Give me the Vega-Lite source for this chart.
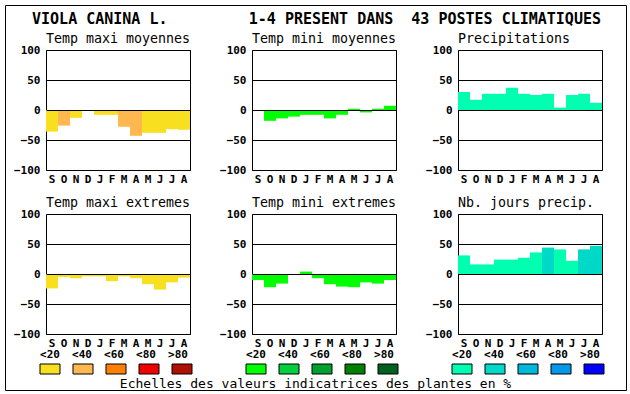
{
  "$schema": "https://vega.github.io/schema/vega-lite/v6.json",
  "padding": 4,
  "background": "white",
  "datasets": {
    "bars": [
      {"p": "tmx", "mo": "Sep", "v": -36, "c": "T1"},
      {"p": "tmx", "mo": "Oct", "v": -26, "c": "T2"},
      {"p": "tmx", "mo": "Nov", "v": -13, "c": "T1"},
      {"p": "tmx", "mo": "Dec", "v": 0, "c": "T1"},
      {"p": "tmx", "mo": "Jan", "v": -8, "c": "T1"},
      {"p": "tmx", "mo": "Feb", "v": -8, "c": "T1"},
      {"p": "tmx", "mo": "Mar", "v": -28, "c": "T2"},
      {"p": "tmx", "mo": "Apr", "v": -43, "c": "T2"},
      {"p": "tmx", "mo": "May", "v": -38, "c": "T1"},
      {"p": "tmx", "mo": "Jun", "v": -38, "c": "T1"},
      {"p": "tmx", "mo": "Jul", "v": -32, "c": "T1"},
      {"p": "tmx", "mo": "Aug", "v": -33, "c": "T1"},
      {"p": "tmn", "mo": "Sep", "v": 0, "c": "N1"},
      {"p": "tmn", "mo": "Oct", "v": -18, "c": "N1"},
      {"p": "tmn", "mo": "Nov", "v": -14, "c": "N1"},
      {"p": "tmn", "mo": "Dec", "v": -11, "c": "N1"},
      {"p": "tmn", "mo": "Jan", "v": -8, "c": "N1"},
      {"p": "tmn", "mo": "Feb", "v": -8, "c": "N1"},
      {"p": "tmn", "mo": "Mar", "v": -14, "c": "N1"},
      {"p": "tmn", "mo": "Apr", "v": -8, "c": "N1"},
      {"p": "tmn", "mo": "May", "v": 2, "c": "N1"},
      {"p": "tmn", "mo": "Jun", "v": -4, "c": "N1"},
      {"p": "tmn", "mo": "Jul", "v": 2, "c": "N1"},
      {"p": "tmn", "mo": "Aug", "v": 7, "c": "N1"},
      {"p": "pr", "mo": "Sep", "v": 30, "c": "P1"},
      {"p": "pr", "mo": "Oct", "v": 17, "c": "P1"},
      {"p": "pr", "mo": "Nov", "v": 27, "c": "P1"},
      {"p": "pr", "mo": "Dec", "v": 27, "c": "P1"},
      {"p": "pr", "mo": "Jan", "v": 37, "c": "P1"},
      {"p": "pr", "mo": "Feb", "v": 27, "c": "P1"},
      {"p": "pr", "mo": "Mar", "v": 25, "c": "P1"},
      {"p": "pr", "mo": "Apr", "v": 27, "c": "P1"},
      {"p": "pr", "mo": "May", "v": 4, "c": "P1"},
      {"p": "pr", "mo": "Jun", "v": 25, "c": "P1"},
      {"p": "pr", "mo": "Jul", "v": 27, "c": "P1"},
      {"p": "pr", "mo": "Aug", "v": 12, "c": "P1"},
      {"p": "tmxe", "mo": "Sep", "v": -24, "c": "T1"},
      {"p": "tmxe", "mo": "Oct", "v": -5, "c": "T1"},
      {"p": "tmxe", "mo": "Nov", "v": -7, "c": "T1"},
      {"p": "tmxe", "mo": "Dec", "v": -4, "c": "T1"},
      {"p": "tmxe", "mo": "Jan", "v": -4, "c": "T1"},
      {"p": "tmxe", "mo": "Feb", "v": -12, "c": "T1"},
      {"p": "tmxe", "mo": "Mar", "v": -4, "c": "T1"},
      {"p": "tmxe", "mo": "Apr", "v": -7, "c": "T1"},
      {"p": "tmxe", "mo": "May", "v": -17, "c": "T1"},
      {"p": "tmxe", "mo": "Jun", "v": -26, "c": "T1"},
      {"p": "tmxe", "mo": "Jul", "v": -14, "c": "T1"},
      {"p": "tmxe", "mo": "Aug", "v": -6, "c": "T1"},
      {"p": "tmne", "mo": "Sep", "v": -10, "c": "N1"},
      {"p": "tmne", "mo": "Oct", "v": -22, "c": "N1"},
      {"p": "tmne", "mo": "Nov", "v": -16, "c": "N1"},
      {"p": "tmne", "mo": "Dec", "v": 0, "c": "N1"},
      {"p": "tmne", "mo": "Jan", "v": 4, "c": "N1"},
      {"p": "tmne", "mo": "Feb", "v": -7, "c": "N1"},
      {"p": "tmne", "mo": "Mar", "v": -17, "c": "N1"},
      {"p": "tmne", "mo": "Apr", "v": -21, "c": "N1"},
      {"p": "tmne", "mo": "May", "v": -22, "c": "N1"},
      {"p": "tmne", "mo": "Jun", "v": -14, "c": "N1"},
      {"p": "tmne", "mo": "Jul", "v": -16, "c": "N1"},
      {"p": "tmne", "mo": "Aug", "v": -10, "c": "N1"},
      {"p": "nj", "mo": "Sep", "v": 31, "c": "P1"},
      {"p": "nj", "mo": "Oct", "v": 16, "c": "P1"},
      {"p": "nj", "mo": "Nov", "v": 16, "c": "P1"},
      {"p": "nj", "mo": "Dec", "v": 24, "c": "P1"},
      {"p": "nj", "mo": "Jan", "v": 24, "c": "P1"},
      {"p": "nj", "mo": "Feb", "v": 27, "c": "P1"},
      {"p": "nj", "mo": "Mar", "v": 36, "c": "P1"},
      {"p": "nj", "mo": "Apr", "v": 44, "c": "P2"},
      {"p": "nj", "mo": "May", "v": 41, "c": "P1"},
      {"p": "nj", "mo": "Jun", "v": 22, "c": "P1"},
      {"p": "nj", "mo": "Jul", "v": 41, "c": "P2"},
      {"p": "nj", "mo": "Aug", "v": 47, "c": "P2"}
    ],
    "leg": [
      {"g": "T", "lab": "<20", "c": "T1"},
      {"g": "T", "lab": "<40", "c": "T2"},
      {"g": "T", "lab": "<60", "c": "T3"},
      {"g": "T", "lab": "<80", "c": "T4"},
      {"g": "T", "lab": ">80", "c": "T5"},
      {"g": "N", "lab": "<20", "c": "N1"},
      {"g": "N", "lab": "<40", "c": "N2"},
      {"g": "N", "lab": "<60", "c": "N3"},
      {"g": "N", "lab": "<80", "c": "N4"},
      {"g": "N", "lab": ">80", "c": "N5"},
      {"g": "P", "lab": "<20", "c": "P1"},
      {"g": "P", "lab": "<40", "c": "P2"},
      {"g": "P", "lab": "<60", "c": "P3"},
      {"g": "P", "lab": "<80", "c": "P4"},
      {"g": "P", "lab": ">80", "c": "P5"}
    ]
  },
  "bounds": "flush",
  "align": "none",
  "spacing": -580,
  "hconcat": [
    {
      "width": 621,
      "height": 385,
      "view": {"stroke": "black", "strokeWidth": 1},
      "title": {"text": "Echelles des valeurs indicatrices des plantes en %", "orient": "bottom", "anchor": "middle", "offset": -2, "fontSize": 13, "baseline": "alphabetic", "frame": "group"},
      "data": {"values": [{"t": ""}]},
      "mark": {"type": "text"},
      "encoding": {
        "x": {"datum": 0.5, "type": "quantitative", "scale": {"domain": [0, 1]}, "axis": null},
        "y": {"datum": 0.5, "type": "quantitative", "scale": {"domain": [0, 1]}, "axis": null},
        "text": {"field": "t", "type": "nominal"}
      }
    },
    {
      "spacing": -1,
      "align": "none",
      "vconcat": [
        {
          "width": 541,
          "height": 27,
          "view": {"stroke": null},
          "data": {"values": [{"t": "VIOLA CANINA L.\u00a0\u00a0\u00a0\u00a0\u00a0\u00a0\u00a0\u00a0\u00a01-4 PRESENT DANS\u00a0\u00a043 POSTES CLIMATIQUES"}]},
          "mark": {"type": "text", "font": "DejaVu Sans Mono", "fontSize": 15, "fontWeight": "bold", "baseline": "alphabetic", "dy": 5.5, "color": "black"},
          "encoding": {"text": {"field": "t", "type": "nominal"}}
        },
        {
          "columns": 3,
          "bounds": "flush",
          "spacing": {"row": 44, "column": 62},
          "concat": [
            {
              "title": "Temp maxi moyennes",
              "width": 144, "height": 120,
              "data": {"name": "bars"},
              "transform": [{"filter": "datum.p === 'tmx'"}],
              "mark": {"type": "bar"},
              "encoding": {
                "x": {"field": "mo", "type": "ordinal", "scale": {"domain": ["Sep","Oct","Nov","Dec","Jan","Feb","Mar","Apr","May","Jun","Jul","Aug"], "paddingInner": 0, "paddingOuter": 0}, "axis": {"title": null, "labelAngle": 0, "labelPadding": 3, "labelExpr": "substring(datum.label,0,1)"}},
                "y": {"field": "v", "type": "quantitative", "scale": {"domain": [-100, 100]}, "axis": {"title": null, "values": [-100,-50,0,50,100], "grid": true, "labelPadding": 6, "labelFlush": false, "zindex": 1}},
                "color": {"field": "c", "type": "nominal", "scale": {"domain": ["T1","T2","T3","T4","T5","N1","N2","N3","N4","N5","P1","P2","P3","P4","P5"], "range": ["#f8e020","#ffb850","#ff8000","#f00000","#b01000","#00ff00","#00d040","#00a030","#008000","#006020","#00ffb0","#00d8c8","#00b8d8","#0098e8","#0000ff"]}, "legend": null}
              }
            },
            {
              "title": "Temp mini moyennes",
              "width": 144, "height": 120,
              "data": {"name": "bars"},
              "transform": [{"filter": "datum.p === 'tmn'"}],
              "mark": {"type": "bar"},
              "encoding": {
                "x": {"field": "mo", "type": "ordinal", "scale": {"domain": ["Sep","Oct","Nov","Dec","Jan","Feb","Mar","Apr","May","Jun","Jul","Aug"], "paddingInner": 0, "paddingOuter": 0}, "axis": {"title": null, "labelAngle": 0, "labelPadding": 3, "labelExpr": "substring(datum.label,0,1)"}},
                "y": {"field": "v", "type": "quantitative", "scale": {"domain": [-100, 100]}, "axis": {"title": null, "values": [-100,-50,0,50,100], "grid": true, "labelPadding": 6, "labelFlush": false, "zindex": 1}},
                "color": {"field": "c", "type": "nominal", "scale": {"domain": ["T1","T2","T3","T4","T5","N1","N2","N3","N4","N5","P1","P2","P3","P4","P5"], "range": ["#f8e020","#ffb850","#ff8000","#f00000","#b01000","#00ff00","#00d040","#00a030","#008000","#006020","#00ffb0","#00d8c8","#00b8d8","#0098e8","#0000ff"]}, "legend": null}
              }
            },
            {
              "title": "Precipitations",
              "width": 144, "height": 120,
              "data": {"name": "bars"},
              "transform": [{"filter": "datum.p === 'pr'"}],
              "mark": {"type": "bar"},
              "encoding": {
                "x": {"field": "mo", "type": "ordinal", "scale": {"domain": ["Sep","Oct","Nov","Dec","Jan","Feb","Mar","Apr","May","Jun","Jul","Aug"], "paddingInner": 0, "paddingOuter": 0}, "axis": {"title": null, "labelAngle": 0, "labelPadding": 3, "labelExpr": "substring(datum.label,0,1)"}},
                "y": {"field": "v", "type": "quantitative", "scale": {"domain": [-100, 100]}, "axis": {"title": null, "values": [-100,-50,0,50,100], "grid": true, "labelPadding": 6, "labelFlush": false, "zindex": 1}},
                "color": {"field": "c", "type": "nominal", "scale": {"domain": ["T1","T2","T3","T4","T5","N1","N2","N3","N4","N5","P1","P2","P3","P4","P5"], "range": ["#f8e020","#ffb850","#ff8000","#f00000","#b01000","#00ff00","#00d040","#00a030","#008000","#006020","#00ffb0","#00d8c8","#00b8d8","#0098e8","#0000ff"]}, "legend": null}
              }
            },
            {
              "title": "Temp maxi extremes",
              "width": 144, "height": 120,
              "data": {"name": "bars"},
              "transform": [{"filter": "datum.p === 'tmxe'"}],
              "mark": {"type": "bar"},
              "encoding": {
                "x": {"field": "mo", "type": "ordinal", "scale": {"domain": ["Sep","Oct","Nov","Dec","Jan","Feb","Mar","Apr","May","Jun","Jul","Aug"], "paddingInner": 0, "paddingOuter": 0}, "axis": {"title": null, "labelAngle": 0, "labelPadding": 3, "labelExpr": "substring(datum.label,0,1)"}},
                "y": {"field": "v", "type": "quantitative", "scale": {"domain": [-100, 100]}, "axis": {"title": null, "values": [-100,-50,0,50,100], "grid": true, "labelPadding": 6, "labelFlush": false, "zindex": 1}},
                "color": {"field": "c", "type": "nominal", "scale": {"domain": ["T1","T2","T3","T4","T5","N1","N2","N3","N4","N5","P1","P2","P3","P4","P5"], "range": ["#f8e020","#ffb850","#ff8000","#f00000","#b01000","#00ff00","#00d040","#00a030","#008000","#006020","#00ffb0","#00d8c8","#00b8d8","#0098e8","#0000ff"]}, "legend": null}
              }
            },
            {
              "title": "Temp mini extremes",
              "width": 144, "height": 120,
              "data": {"name": "bars"},
              "transform": [{"filter": "datum.p === 'tmne'"}],
              "mark": {"type": "bar"},
              "encoding": {
                "x": {"field": "mo", "type": "ordinal", "scale": {"domain": ["Sep","Oct","Nov","Dec","Jan","Feb","Mar","Apr","May","Jun","Jul","Aug"], "paddingInner": 0, "paddingOuter": 0}, "axis": {"title": null, "labelAngle": 0, "labelPadding": 3, "labelExpr": "substring(datum.label,0,1)"}},
                "y": {"field": "v", "type": "quantitative", "scale": {"domain": [-100, 100]}, "axis": {"title": null, "values": [-100,-50,0,50,100], "grid": true, "labelPadding": 6, "labelFlush": false, "zindex": 1}},
                "color": {"field": "c", "type": "nominal", "scale": {"domain": ["T1","T2","T3","T4","T5","N1","N2","N3","N4","N5","P1","P2","P3","P4","P5"], "range": ["#f8e020","#ffb850","#ff8000","#f00000","#b01000","#00ff00","#00d040","#00a030","#008000","#006020","#00ffb0","#00d8c8","#00b8d8","#0098e8","#0000ff"]}, "legend": null}
              }
            },
            {
              "title": "Nb. jours precip.",
              "width": 144, "height": 120,
              "data": {"name": "bars"},
              "transform": [{"filter": "datum.p === 'nj'"}],
              "mark": {"type": "bar"},
              "encoding": {
                "x": {"field": "mo", "type": "ordinal", "scale": {"domain": ["Sep","Oct","Nov","Dec","Jan","Feb","Mar","Apr","May","Jun","Jul","Aug"], "paddingInner": 0, "paddingOuter": 0}, "axis": {"title": null, "labelAngle": 0, "labelPadding": 3, "labelExpr": "substring(datum.label,0,1)"}},
                "y": {"field": "v", "type": "quantitative", "scale": {"domain": [-100, 100]}, "axis": {"title": null, "values": [-100,-50,0,50,100], "grid": true, "labelPadding": 6, "labelFlush": false, "zindex": 1}},
                "color": {"field": "c", "type": "nominal", "scale": {"domain": ["T1","T2","T3","T4","T5","N1","N2","N3","N4","N5","P1","P2","P3","P4","P5"], "range": ["#f8e020","#ffb850","#ff8000","#f00000","#b01000","#00ff00","#00d040","#00a030","#008000","#006020","#00ffb0","#00d8c8","#00b8d8","#0098e8","#0000ff"]}, "legend": null}
              }
            }
          ]
        },
        {
          "bounds": "flush",
          "spacing": 62,
          "hconcat": [
            {
              "width": 144, "height": 28,
              "view": {"stroke": null},
              "data": {"name": "leg"},
              "transform": [{"filter": "datum.g === 'T'"}],
              "layer": [
                {
                  "mark": {"type": "text", "font": "DejaVu Sans Mono", "fontSize": 11, "fontWeight": "bold", "color": "black"},
                  "encoding": {
                    "x": {"field": "lab", "type": "nominal", "scale": {"type": "point", "domain": ["<20","<40","<60","<80",">80"], "range": [4, 132], "padding": 0}, "axis": null},
                    "y": {"datum": "a", "type": "nominal", "scale": {"type": "band", "domain": ["a","b"], "paddingInner": 0, "paddingOuter": 0}, "axis": null},
                    "text": {"field": "lab", "type": "nominal"}
                  }
                },
                {
                  "mark": {"type": "tick", "orient": "horizontal", "size": 20, "thickness": 10, "stroke": "black", "strokeWidth": 1, "opacity": 1},
                  "encoding": {
                    "x": {"field": "lab", "type": "nominal", "scale": {"type": "point", "domain": ["<20","<40","<60","<80",">80"], "range": [4, 136], "padding": 0}, "axis": null},
                    "y": {"datum": "b", "type": "nominal", "scale": {"type": "band", "domain": ["a","b"], "paddingInner": 0, "paddingOuter": 0}, "axis": null},
                    "color": {"field": "c", "type": "nominal", "scale": {"domain": ["T1","T2","T3","T4","T5","N1","N2","N3","N4","N5","P1","P2","P3","P4","P5"], "range": ["#f8e020","#ffb850","#ff8000","#f00000","#b01000","#00ff00","#00d040","#00a030","#008000","#006020","#00ffb0","#00d8c8","#00b8d8","#0098e8","#0000ff"]}, "legend": null}
                  }
                }
              ],
              "resolve": {"scale": {"x": "independent"}}
            },
            {
              "width": 144, "height": 28,
              "view": {"stroke": null},
              "data": {"name": "leg"},
              "transform": [{"filter": "datum.g === 'N'"}],
              "layer": [
                {
                  "mark": {"type": "text", "font": "DejaVu Sans Mono", "fontSize": 11, "fontWeight": "bold", "color": "black"},
                  "encoding": {
                    "x": {"field": "lab", "type": "nominal", "scale": {"type": "point", "domain": ["<20","<40","<60","<80",">80"], "range": [4, 132], "padding": 0}, "axis": null},
                    "y": {"datum": "a", "type": "nominal", "scale": {"type": "band", "domain": ["a","b"], "paddingInner": 0, "paddingOuter": 0}, "axis": null},
                    "text": {"field": "lab", "type": "nominal"}
                  }
                },
                {
                  "mark": {"type": "tick", "orient": "horizontal", "size": 20, "thickness": 10, "stroke": "black", "strokeWidth": 1, "opacity": 1},
                  "encoding": {
                    "x": {"field": "lab", "type": "nominal", "scale": {"type": "point", "domain": ["<20","<40","<60","<80",">80"], "range": [4, 136], "padding": 0}, "axis": null},
                    "y": {"datum": "b", "type": "nominal", "scale": {"type": "band", "domain": ["a","b"], "paddingInner": 0, "paddingOuter": 0}, "axis": null},
                    "color": {"field": "c", "type": "nominal", "scale": {"domain": ["T1","T2","T3","T4","T5","N1","N2","N3","N4","N5","P1","P2","P3","P4","P5"], "range": ["#f8e020","#ffb850","#ff8000","#f00000","#b01000","#00ff00","#00d040","#00a030","#008000","#006020","#00ffb0","#00d8c8","#00b8d8","#0098e8","#0000ff"]}, "legend": null}
                  }
                }
              ],
              "resolve": {"scale": {"x": "independent"}}
            },
            {
              "width": 144, "height": 28,
              "view": {"stroke": null},
              "data": {"name": "leg"},
              "transform": [{"filter": "datum.g === 'P'"}],
              "layer": [
                {
                  "mark": {"type": "text", "font": "DejaVu Sans Mono", "fontSize": 11, "fontWeight": "bold", "color": "black"},
                  "encoding": {
                    "x": {"field": "lab", "type": "nominal", "scale": {"type": "point", "domain": ["<20","<40","<60","<80",">80"], "range": [4, 132], "padding": 0}, "axis": null},
                    "y": {"datum": "a", "type": "nominal", "scale": {"type": "band", "domain": ["a","b"], "paddingInner": 0, "paddingOuter": 0}, "axis": null},
                    "text": {"field": "lab", "type": "nominal"}
                  }
                },
                {
                  "mark": {"type": "tick", "orient": "horizontal", "size": 20, "thickness": 10, "stroke": "black", "strokeWidth": 1, "opacity": 1},
                  "encoding": {
                    "x": {"field": "lab", "type": "nominal", "scale": {"type": "point", "domain": ["<20","<40","<60","<80",">80"], "range": [4, 136], "padding": 0}, "axis": null},
                    "y": {"datum": "b", "type": "nominal", "scale": {"type": "band", "domain": ["a","b"], "paddingInner": 0, "paddingOuter": 0}, "axis": null},
                    "color": {"field": "c", "type": "nominal", "scale": {"domain": ["T1","T2","T3","T4","T5","N1","N2","N3","N4","N5","P1","P2","P3","P4","P5"], "range": ["#f8e020","#ffb850","#ff8000","#f00000","#b01000","#00ff00","#00d040","#00a030","#008000","#006020","#00ffb0","#00d8c8","#00b8d8","#0098e8","#0000ff"]}, "legend": null}
                  }
                }
              ],
              "resolve": {"scale": {"x": "independent"}}
            }
          ]
        }
      ]
    }
  ],
  "config": {
    "font": "DejaVu Sans Mono",
    "view": {"stroke": "black", "strokeWidth": 1},
    "bar": {"stroke": null},
    "axis": {"labelFont": "DejaVu Sans Mono", "labelFontSize": 11, "labelFontWeight": "bold", "labelColor": "black", "ticks": false, "tickSize": 0, "domain": false, "gridColor": "black", "gridOpacity": 1, "gridWidth": 1},
    "axisX": {"grid": false},
    "title": {"font": "DejaVu Sans Mono", "fontSize": 13.3, "fontWeight": "normal", "color": "black", "anchor": "start", "frame": "group", "offset": -1, "baseline": "alphabetic"}
  }
}
